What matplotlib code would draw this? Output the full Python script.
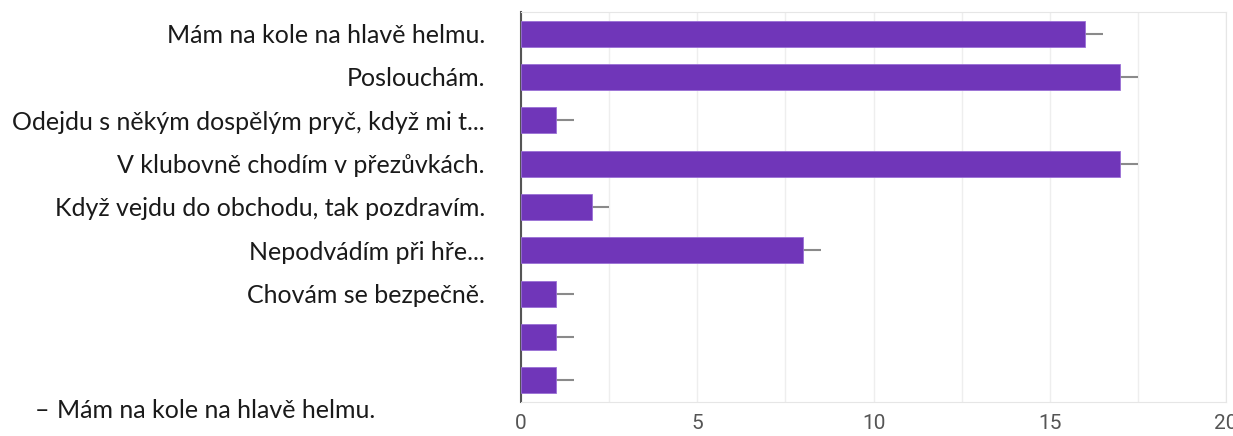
import matplotlib.pyplot as plt

# Survey answers
labels = ["Mám na kole na hlavě helmu.",
          "Poslouchám.",
          "Odejdu s někým dospělým pryč, když mi t...",
          "V klubovně chodím v přezůvkách.",
          "Když vejdu do obchodu, tak pozdravím.",
          "Nepodvádím při hře...",
          "Chovám se bezpečně.",
          "",
          ""]
counts = [16, 17, 1, 17, 2, 8, 1, 1, 1]
whisker = [0.5] * len(counts)
xticks = [0, 5, 10, 15, 20]

fig = plt.figure(figsize=(12.33, 4.36), dpi=100)
ax = fig.add_axes([0.4226, 0.078, 0.5717, 0.8945])

pos = list(range(len(counts)))
ax.barh(pos, counts, height=0.6, color="#7036b9", edgecolor="#9a6fd6", linewidth=0.6, zorder=3)
ax.errorbar(counts, pos, xerr=[[0] * len(counts), whisker], fmt="none",
            ecolor="#8a8a8a", elinewidth=1.5, capsize=0, zorder=2)

ax.set_ylim(len(counts) - 0.5, -0.5)
ax.set_xlim(0, 20)
ax.set_yticks(pos)
ax.set_yticklabels(labels, fontsize=18, family=["Lato", "DejaVu Sans"], color="#1a1a1a")
ax.tick_params(axis="y", length=0, pad=26)

ax.set_xticks(xticks)
ax.set_xticklabels([str(t) for t in xticks], fontsize=15, color="#555555",
                   family=["Roboto", "DejaVu Sans"])
ax.set_xticks([2.5, 7.5, 12.5, 17.5], minor=True)
ax.tick_params(axis="x", which="both", length=0, pad=9)
ax.grid(axis="x", which="both", color="#eeeeee", linewidth=1, zorder=0)

for side in ["top", "right", "bottom"]:
    ax.spines[side].set_color("#e6e6e6")
ax.spines["left"].set_color("#555555")
ax.spines["left"].set_linewidth(1.5)

# bullet line under the chart
fig.text(35 / 1233, 1 - 410 / 436, "–", fontsize=18, family=["Lato", "DejaVu Sans"],
         va="center", ha="left", color="#1a1a1a")
fig.text(57 / 1233, 1 - 410 / 436, "Mám na kole na hlavě helmu.", fontsize=18,
         family=["Lato", "DejaVu Sans"], va="center", ha="left", color="#1a1a1a")

fig.savefig("out.png", dpi=100)
